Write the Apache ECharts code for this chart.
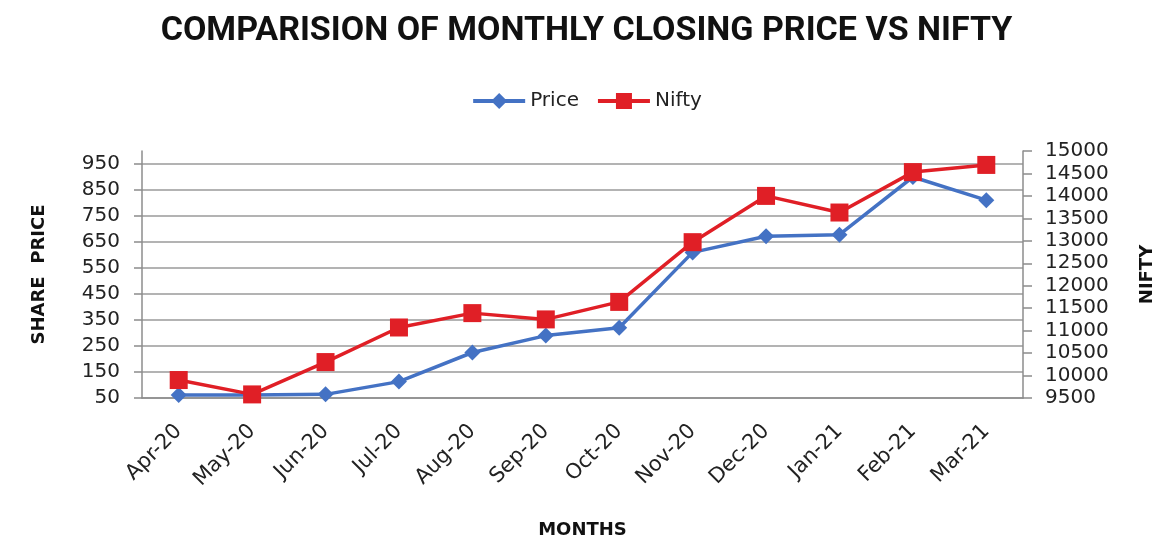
<!DOCTYPE html>
<html>
<head>
<meta charset="utf-8">
<script src="https://cdn.jsdelivr.net/npm/echarts@6/dist/echarts.min.js"></script>
<style>
  html, body { margin: 0; padding: 0; background: #fff; }
  #chart { width: 1173px; height: 540px; }
</style>
</head>
<body>
<div id="chart"></div>
<script>
// data
var months = ['Apr-20', 'May-20', 'Jun-20', 'Jul-20', 'Aug-20', 'Sep-20',
              'Oct-20', 'Nov-20', 'Dec-20', 'Jan-21', 'Feb-21', 'Mar-21'];
var price = [62, 62, 64, 113, 225, 290, 320, 610, 672, 678, 900, 811];
var nifty = [9900, 9580, 10300, 11070, 11390, 11250, 11640, 12970, 14000, 13630, 14530, 14690];

var myChart = echarts.init(document.getElementById('chart'));
var labelFont = 'DejaVu Sans';
var option = {
  title: {
    text: 'COMPARISION OF MONTHLY CLOSING PRICE VS NIFTY',
    left: 'center',
    top: 9,
    textStyle: { fontFamily: 'Roboto', fontWeight: 'bold', fontSize: 34, color: '#111' }
  },
  legend: {
    top: 86,
    left: 'center',
    itemWidth: 52,
    itemHeight: 20,
    itemGap: 17,
    lineStyle: { width: 4 },
    textStyle: { fontFamily: labelFont, fontSize: 20, color: '#222' },
    data: ['Price', 'Nifty']
  },
  grid: { left: 142, right: 150, top: 151, bottom: 142, outerBoundsMode: 'none' },
  xAxis: {
    type: 'category',
    data: months,
    name: 'MONTHS',
    nameLocation: 'middle',
    nameGap: 123,
    nameTextStyle: { fontFamily: labelFont, fontWeight: 'bold', fontSize: 18, color: '#111' },
    axisLine: { lineStyle: { color: '#8c8c8c', width: 1.5 } },
    axisTick: { length: 9, lineStyle: { color: '#8c8c8c', width: 1.5 } },
    axisLabel: { rotate: 45, fontFamily: labelFont, fontSize: 21, color: '#222', margin: 30 }
  },
  yAxis: [{
    type: 'value',
    min: 50,
    max: 1000,
    interval: 100,
    name: 'SHARE  PRICE',
    nameLocation: 'middle',
    nameGap: 94,
    nameTextStyle: { fontFamily: labelFont, fontWeight: 'bold', fontSize: 18, color: '#111' },
    axisLine: { show: true, lineStyle: { color: '#8c8c8c', width: 1.5 } },
    axisTick: { show: true, length: 8, lineStyle: { color: '#8c8c8c', width: 1.5 } },
    axisLabel: { fontFamily: labelFont, fontSize: 20, color: '#222', margin: 22, showMaxLabel: false },
    splitLine: { showMaxLine: false, lineStyle: { color: '#9a9a9a', width: 1.5 } }
  }, {
    type: 'value',
    min: 9500,
    max: 15000,
    interval: 500,
    name: 'NIFTY',
    nameLocation: 'middle',
    nameGap: 115,
    nameRotate: 90,
    nameTextStyle: { fontFamily: labelFont, fontWeight: 'bold', fontSize: 18, color: '#111' },
    axisLine: { show: true, lineStyle: { color: '#8c8c8c', width: 1.5 } },
    axisTick: { show: true, length: 9, lineStyle: { color: '#8c8c8c', width: 1.5 } },
    axisLabel: {
      fontFamily: labelFont, fontSize: 20, color: '#222', margin: 22,
      formatter: function (v) { return String(v); }
    },
    splitLine: { show: false }
  }],
  series: [{
    name: 'Price',
    type: 'line',
    data: price,
    yAxisIndex: 0,
    symbol: 'diamond',
    symbolSize: 16,
    itemStyle: { color: '#4472c4' },
    lineStyle: { color: '#4472c4', width: 3.5 }
  }, {
    name: 'Nifty',
    type: 'line',
    data: nifty,
    yAxisIndex: 1,
    symbol: 'rect',
    symbolSize: 18,
    itemStyle: { color: '#e01f26' },
    lineStyle: { color: '#e01f26', width: 3.5 }
  }]
};
myChart.setOption(option);
</script>
</body>
</html>
